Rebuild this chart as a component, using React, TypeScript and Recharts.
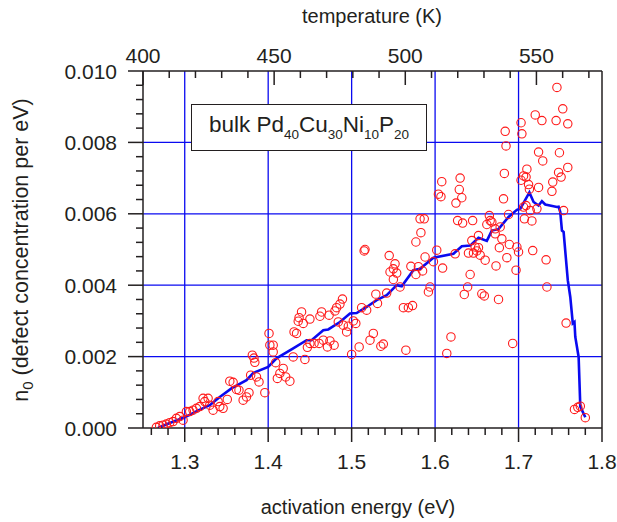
import React from "react";
import { ComposedChart, Scatter, Line, XAxis, YAxis, ReferenceLine } from "recharts";

const FONT = "'Liberation Sans', Arial, Helvetica, sans-serif";
const INK = "#231f20";
const RED = "#ff1a1a";
const BLUE = "#0a0af0";

// bottom axis: activation energy (eV), a tick every 0.02
const energyTicks = [
  1.26, 1.28, 1.3, 1.32, 1.34, 1.36, 1.38, 1.4, 1.42, 1.44, 1.46, 1.48, 1.5, 1.52,
  1.54, 1.56, 1.58, 1.6, 1.62, 1.64, 1.66, 1.68, 1.7, 1.72, 1.74, 1.76, 1.78, 1.8,
];
const energyGrid = [1.3, 1.4, 1.5, 1.6, 1.7];

// left axis: n0, a tick every 0.0004
const concTicks = [
  0, 0.0004, 0.0008, 0.0012, 0.0016, 0.002, 0.0024, 0.0028, 0.0032, 0.0036, 0.004, 0.0044,
  0.0048, 0.0052, 0.0056, 0.006, 0.0064, 0.0068, 0.0072, 0.0076, 0.008, 0.0084, 0.0088,
  0.0092, 0.0096, 0.01,
];
const concGrid = [0.002, 0.004, 0.006, 0.008];

// top axis: temperature (K)
const tempRange = [400, 575];
const tempTicks = [400, 410, 420, 430, 440, 450, 460, 470, 480, 490, 500, 510, 520, 530, 540, 550, 560, 570];

// measured points [E (eV), n0]
const measured = [
  [1.266, 0.00002], [1.27, 0.00006], [1.274, 0.00008], [1.278, 0.00011], [1.282, 0.00015],
  [1.286, 0.00018], [1.29, 0.00027], [1.294, 0.00032], [1.298, 0.00022], [1.302, 0.00046],
  [1.306, 0.00046], [1.31, 0.0005], [1.314, 0.00055], [1.318, 0.0006], [1.322, 0.00083],
  [1.324, 0.00074], [1.328, 0.00083], [1.33, 0.00064], [1.334, 0.0005], [1.34, 0.00074],
  [1.342, 0.0006], [1.346, 0.00055], [1.351, 0.0008], [1.354, 0.00131], [1.358, 0.00128],
  [1.362, 0.00108], [1.365, 0.00106], [1.37, 0.00078], [1.374, 0.00087], [1.377, 0.00099],
  [1.379, 0.00148], [1.381, 0.00204], [1.383, 0.00196], [1.384, 0.00184], [1.386, 0.00143],
  [1.389, 0.00129], [1.396, 0.00099], [1.401, 0.00265], [1.402, 0.00232], [1.406, 0.00232],
  [1.406, 0.00213], [1.409, 0.00183], [1.411, 0.00139], [1.414, 0.00153], [1.418, 0.00167],
  [1.421, 0.00143], [1.426, 0.00131], [1.43, 0.00199], [1.431, 0.00269], [1.434, 0.00265],
  [1.444, 0.00192],
  [1.516, 0.005], [1.515, 0.00496], [1.545, 0.00483], [1.552, 0.0046], [1.546, 0.00437],
  [1.554, 0.00434], [1.55, 0.00416], [1.558, 0.00395], [1.529, 0.00375], [1.542, 0.00378],
  [1.531, 0.00349], [1.518, 0.0033], [1.512, 0.00337], [1.562, 0.00337], [1.568, 0.00337],
  [1.489, 0.00361], [1.486, 0.00347], [1.482, 0.00337], [1.48, 0.00328], [1.473, 0.00316],
  [1.464, 0.00325], [1.462, 0.00313], [1.44, 0.00325], [1.437, 0.00309], [1.442, 0.00293],
  [1.436, 0.00299], [1.45, 0.00305], [1.484, 0.00297], [1.49, 0.00288], [1.496, 0.00285],
  [1.502, 0.003], [1.505, 0.00293], [1.494, 0.00269], [1.45, 0.00237], [1.447, 0.00226],
  [1.455, 0.00237], [1.461, 0.00237], [1.466, 0.00246], [1.474, 0.00244], [1.471, 0.00227],
  [1.479, 0.00232], [1.509, 0.00227], [1.522, 0.00246], [1.526, 0.00265], [1.538, 0.00235],
  [1.535, 0.00229], [1.565, 0.00218], [1.5, 0.00206], [1.614, 0.00209], [1.619, 0.00255],
  [1.693, 0.00237],
  [1.582, 0.00586], [1.587, 0.00586], [1.583, 0.00547], [1.577, 0.00521], [1.602, 0.00498],
  [1.608, 0.0069], [1.604, 0.00655], [1.607, 0.00648], [1.609, 0.00448], [1.588, 0.00479],
  [1.598, 0.00466], [1.58, 0.00452], [1.577, 0.0043], [1.571, 0.00453], [1.594, 0.00395],
  [1.592, 0.00381], [1.573, 0.00343], [1.55, 0.00446], [1.585, 0.0044], [1.63, 0.007],
  [1.629, 0.00668], [1.632, 0.00645], [1.625, 0.0063], [1.683, 0.00713], [1.71, 0.00725],
  [1.706, 0.00706], [1.703, 0.00694], [1.709, 0.00703], [1.712, 0.00682], [1.713, 0.00669],
  [1.682, 0.00642], [1.724, 0.00773], [1.706, 0.00619], [1.709, 0.00623], [1.714, 0.00609],
  [1.722, 0.00614], [1.707, 0.00586], [1.716, 0.0058], [1.688, 0.00598], [1.665, 0.00595],
  [1.666, 0.00581], [1.662, 0.0057], [1.668, 0.00577], [1.672, 0.00558], [1.678, 0.00563],
  [1.672, 0.00544], [1.645, 0.00581], [1.627, 0.00581], [1.633, 0.00574], [1.652, 0.00539],
  [1.644, 0.00525], [1.68, 0.0053], [1.677, 0.00505], [1.689, 0.00514], [1.698, 0.00507],
  [1.7, 0.00493], [1.717, 0.00497], [1.686, 0.00477], [1.673, 0.00454], [1.697, 0.00442],
  [1.652, 0.00505], [1.65, 0.00496], [1.648, 0.00507], [1.64, 0.0049], [1.646, 0.0049],
  [1.654, 0.00484], [1.66, 0.0047], [1.624, 0.00488], [1.642, 0.0043], [1.639, 0.00395],
  [1.635, 0.00374], [1.656, 0.00376], [1.659, 0.0037], [1.676, 0.0036],
  [1.746, 0.00954], [1.753, 0.00894], [1.759, 0.00852], [1.745, 0.00861], [1.72, 0.00877],
  [1.728, 0.00861], [1.703, 0.00855], [1.704, 0.00824], [1.684, 0.00831], [1.685, 0.0079],
  [1.729, 0.00748], [1.749, 0.00771], [1.759, 0.0073], [1.748, 0.00716], [1.751, 0.00703],
  [1.741, 0.00689], [1.74, 0.00663], [1.724, 0.00674], [1.754, 0.00609], [1.733, 0.00471],
  [1.734, 0.00395], [1.757, 0.00294], [1.767, 0.00052], [1.771, 0.00058], [1.774, 0.00061],
  [1.78, 0.00029],
].map(([e, n]) => ({ e, n }));

// smoothed spectrum [E (eV), n0]
const spectrum = [
  [1.268, 0], [1.282, 0.00014], [1.3, 0.0003], [1.315, 0.00048], [1.33, 0.00064],
  [1.342, 0.00087], [1.356, 0.00111], [1.374, 0.00134], [1.382, 0.00154], [1.4, 0.00171],
  [1.41, 0.00195], [1.43, 0.00223], [1.446, 0.00246], [1.452, 0.00246], [1.466, 0.00274],
  [1.472, 0.00276], [1.486, 0.00297], [1.498, 0.00321], [1.506, 0.00322], [1.518, 0.00339],
  [1.53, 0.00358], [1.542, 0.00372], [1.554, 0.004], [1.56, 0.00397], [1.574, 0.00442],
  [1.582, 0.00446], [1.598, 0.00477], [1.622, 0.00488], [1.632, 0.00509], [1.642, 0.00511],
  [1.652, 0.00533], [1.662, 0.00524], [1.668, 0.00553], [1.676, 0.00557], [1.688, 0.00591],
  [1.698, 0.00611], [1.702, 0.00614], [1.713, 0.0066], [1.718, 0.00633], [1.724, 0.00623],
  [1.728, 0.00635], [1.732, 0.00626], [1.746, 0.00619], [1.748, 0.0062], [1.75, 0.00605],
  [1.752, 0.00553], [1.754, 0.00549], [1.759, 0.00414], [1.762, 0.00367], [1.765, 0.00293],
  [1.767, 0.00297], [1.768, 0.00255], [1.772, 0.00199], [1.774, 0.0006], [1.78, 0.0003],
].map(([e, n]) => ({ e, n }));

// invisible anchors so the temperature axis gets its scale
const tempAnchors = tempRange.map((t) => ({ t, n: 0 }));

const textStyle = { fontFamily: FONT, fill: INK };

function EnergyTick({ x, y, payload }: any) {
  const v = payload.value;
  const major = Math.abs(v * 10 - Math.round(v * 10)) < 1e-6;
  return (
    <g>
      <line x1={x} x2={x} y1={y} y2={y + (major ? 14 : 7)} stroke={INK} strokeWidth={1.5} />
      {major && (
        <text x={x} y={y + 41} textAnchor="middle" fontSize={21} {...textStyle}>
          {v.toFixed(1)}
        </text>
      )}
    </g>
  );
}

function TempTick({ x, y, payload }: any) {
  const v = payload.value;
  const major = v % 50 === 0;
  return (
    <g>
      <line x1={x} x2={x} y1={y} y2={y + (major ? 14 : 7)} stroke={INK} strokeWidth={1.5} />
      {major && (
        <text x={x} y={y - 8} textAnchor="middle" fontSize={21} {...textStyle}>
          {v}
        </text>
      )}
    </g>
  );
}

function ConcTick({ x, y, payload }: any) {
  const v = payload.value;
  const major = Math.abs(v * 500 - Math.round(v * 500)) < 1e-6;
  return (
    <g>
      <line x1={x} x2={x - (major ? 15 : 7)} y1={y} y2={y} stroke={INK} strokeWidth={1.5} />
      {major && (
        <text x={x - 26} y={y + 7.5} textAnchor="end" fontSize={21} {...textStyle}>
          {v.toFixed(3)}
        </text>
      )}
    </g>
  );
}

function OpenCircle({ cx, cy }: any) {
  return <circle cx={cx} cy={cy} r={4.2} fill="none" stroke={RED} strokeWidth={1.1} />;
}

const sub = { fontSize: 13.5, position: "relative", top: 7 } as const;

export default function App() {
  return (
    <div style={{ position: "absolute", left: 0, top: 0, width: 617, height: 522, background: "#fff" }}>
      <ComposedChart width={617} height={522} margin={{ top: 0, right: 15, bottom: 0, left: 0 }}>
        <XAxis
          xAxisId="e"
          dataKey="e"
          type="number"
          domain={[1.25, 1.8]}
          allowDataOverflow
          ticks={energyTicks}
          interval={0}
          height={94}
          tickSize={0}
          tickMargin={0}
          tickLine={false}
          tick={<EnergyTick />}
          axisLine={{ stroke: INK, strokeWidth: 1.5 }}
        />
        <XAxis
          xAxisId="t"
          dataKey="t"
          orientation="top"
          type="number"
          domain={tempRange}
          allowDataOverflow
          ticks={tempTicks}
          interval={0}
          height={71}
          tickSize={0}
          tickMargin={0}
          tickLine={false}
          tick={<TempTick />}
          axisLine={{ stroke: INK, strokeWidth: 1.5 }}
        />
        <YAxis
          yAxisId="n"
          type="number"
          domain={[0, 0.01]}
          allowDataOverflow
          ticks={concTicks}
          interval={0}
          width={143}
          tickSize={0}
          tickMargin={0}
          tickLine={false}
          tick={<ConcTick />}
          axisLine={{ stroke: INK, strokeWidth: 1.5 }}
        />
        {energyGrid.map((v) => (
          <ReferenceLine key={`gx-${v}`} xAxisId="e" yAxisId="n" x={v} stroke={BLUE} strokeWidth={1.3} />
        ))}
        {concGrid.map((v) => (
          <ReferenceLine key={`gy-${v}`} xAxisId="e" yAxisId="n" y={v} stroke={BLUE} strokeWidth={1.3} />
        ))}
        <ReferenceLine xAxisId="e" yAxisId="n" x={1.8} stroke={INK} strokeWidth={1.5} />
        <Scatter
          xAxisId="t"
          yAxisId="n"
          data={tempAnchors}
          dataKey="n"
          shape={() => <g />}
          isAnimationActive={false}
        />
        <Scatter
          xAxisId="e"
          yAxisId="n"
          data={measured}
          dataKey="n"
          shape={<OpenCircle />}
          isAnimationActive={false}
        />
        <Line
          xAxisId="e"
          yAxisId="n"
          data={spectrum}
          dataKey="n"
          type="linear"
          stroke={BLUE}
          strokeWidth={2.6}
          dot={false}
          activeDot={false}
          isAnimationActive={false}
        />
      </ComposedChart>

      <svg width={617} height={522} style={{ position: "absolute", left: 0, top: 0, pointerEvents: "none" }}>
        <text x={372} y={23} textAnchor="middle" fontSize={20} {...textStyle}>
          temperature (K)
        </text>
        <text x={358} y={514} textAnchor="middle" fontSize={20} {...textStyle}>
          activation energy (eV)
        </text>
      </svg>

      <div
        style={{
          position: "absolute",
          left: 22,
          top: 250,
          transform: "translate(-50%, -50%) rotate(-90deg)",
          whiteSpace: "nowrap",
          fontFamily: FONT,
          fontSize: 21.5,
          lineHeight: "24px",
          color: INK,
        }}
      >
        n<span style={{ fontSize: 15, position: "relative", top: 5 }}>0</span> (defect concentration per eV)
      </div>

      <div
        style={{
          position: "absolute",
          left: 191,
          top: 104,
          width: 236,
          height: 47,
          boxSizing: "border-box",
          border: `1.5px solid ${INK}`,
          background: "#fff",
          color: INK,
          fontFamily: FONT,
          fontSize: 22.5,
          display: "flex",
          alignItems: "center",
          justifyContent: "center",
          paddingBottom: 6,
          whiteSpace: "nowrap",
        }}
      >
        <span>
          bulk Pd<span style={sub}>40</span>Cu<span style={sub}>30</span>Ni<span style={sub}>10</span>P
          <span style={sub}>20</span>
        </span>
      </div>
    </div>
  );
}
